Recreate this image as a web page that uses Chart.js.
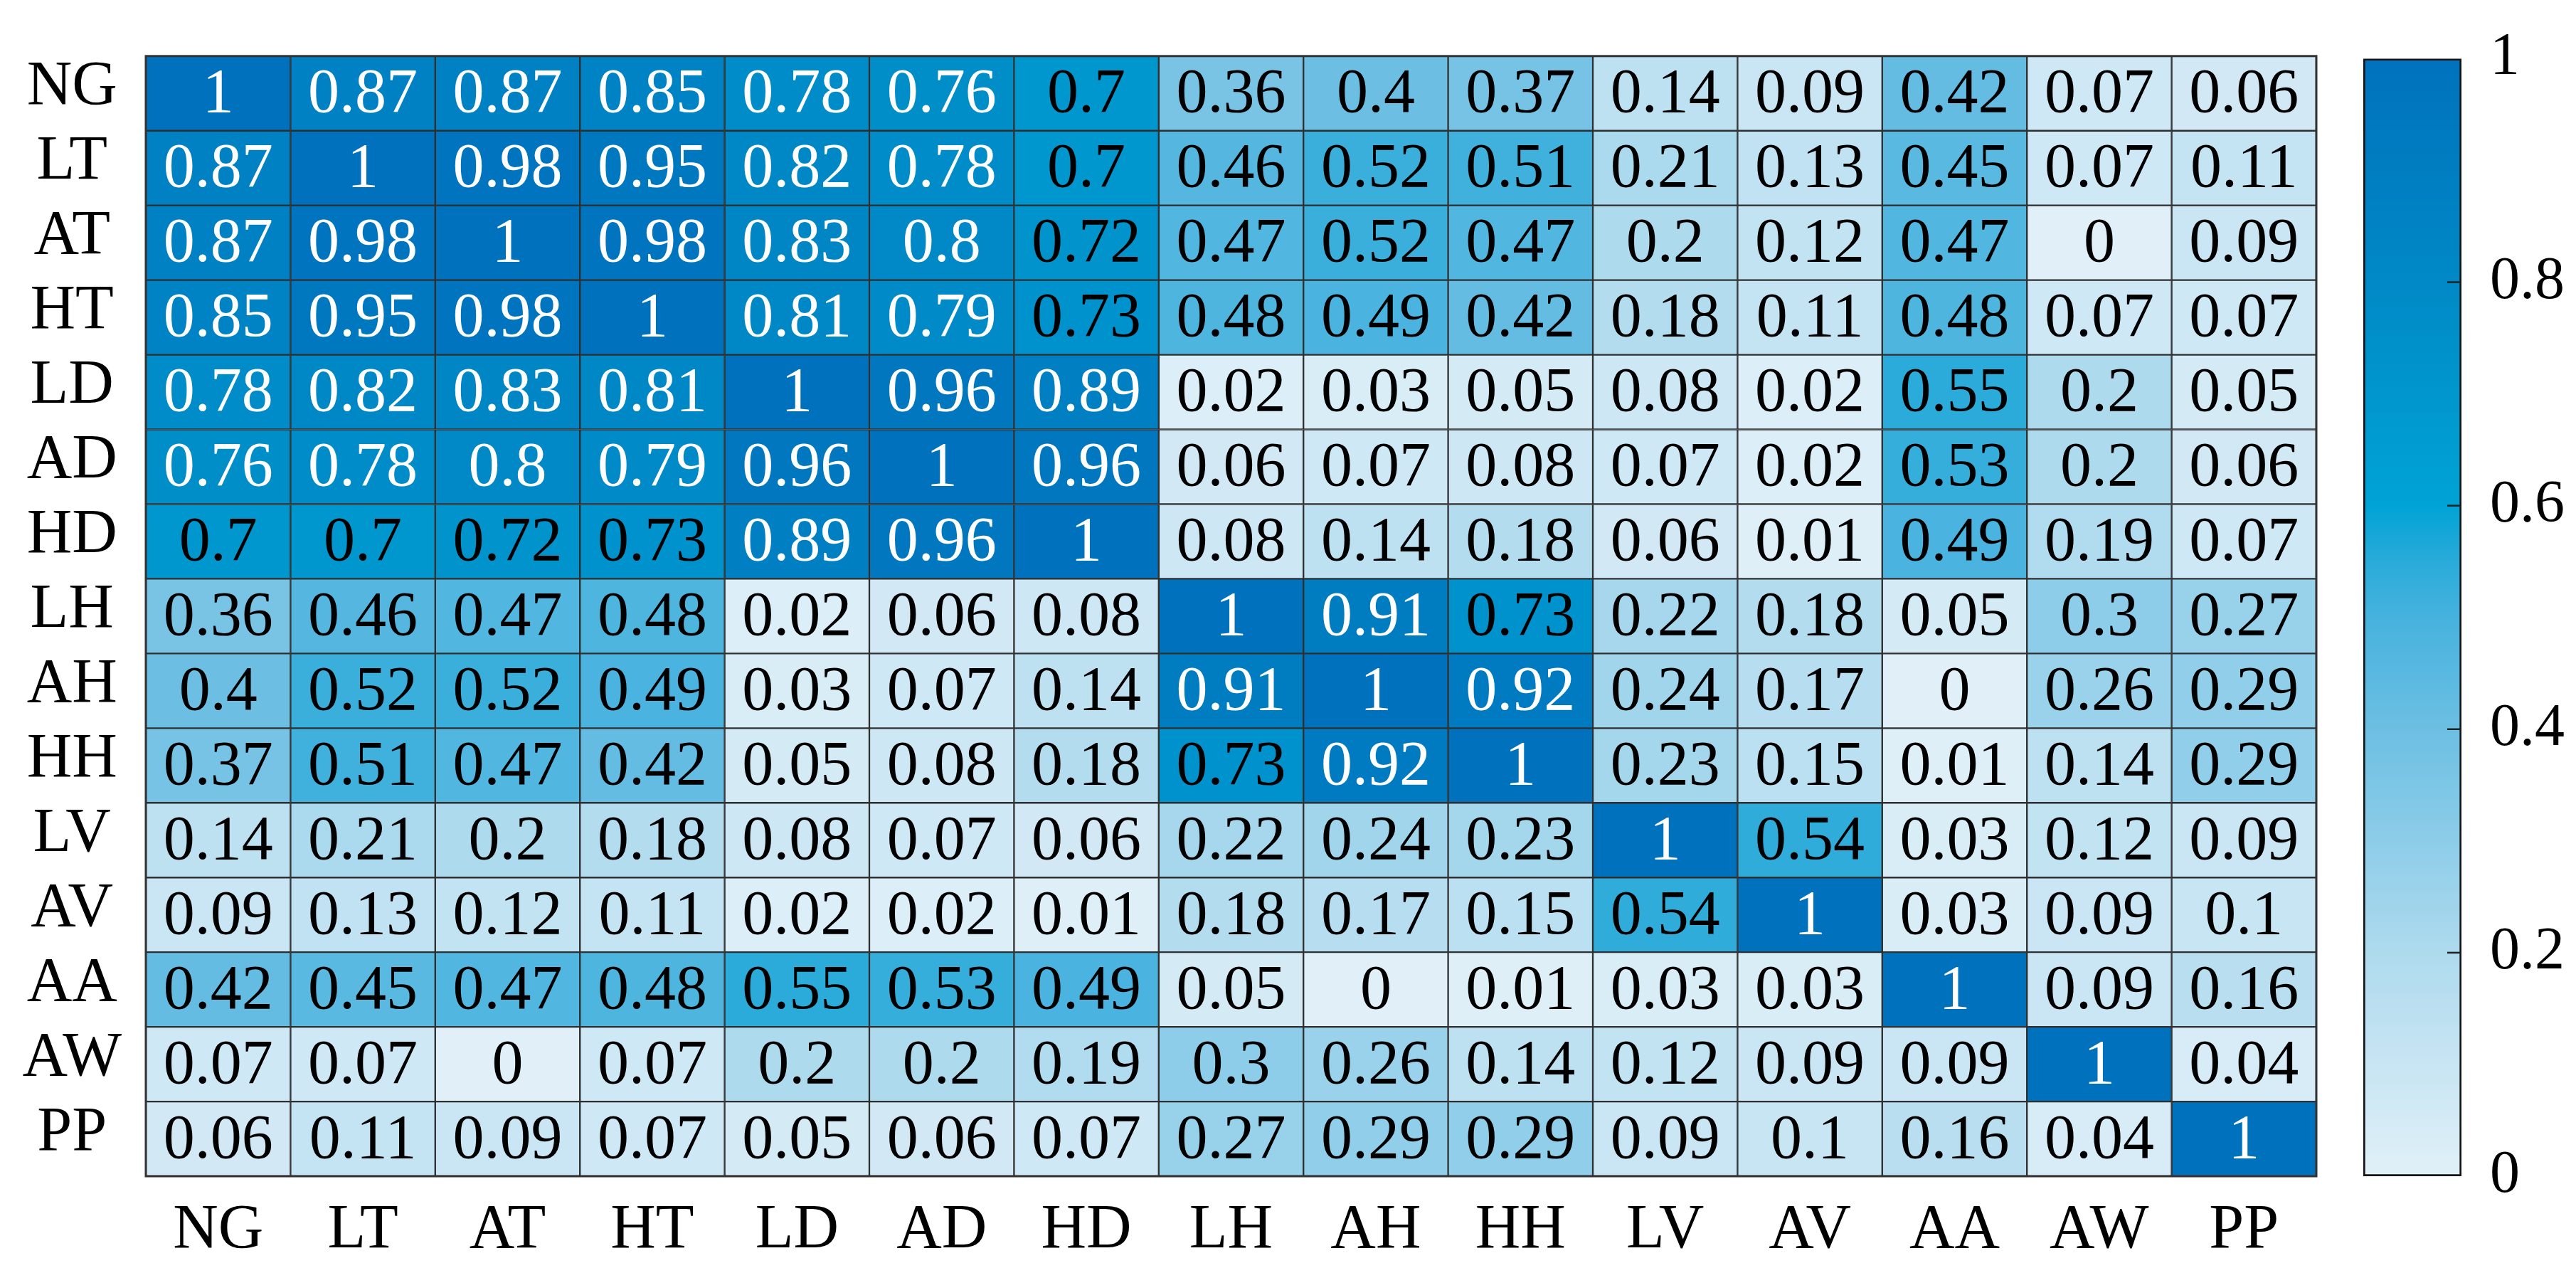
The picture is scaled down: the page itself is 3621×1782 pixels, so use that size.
<!DOCTYPE html>
<html>
<head>
<meta charset="utf-8">
<title>Correlation heatmap</title>
<script src="https://cdn.jsdelivr.net/npm/chart.js@4.4.1/dist/chart.umd.min.js"></script>
<style>
    body { margin: 0; background: #fff; }
    #wrap { position: relative; width: 3621px; height: 1782px; background: #fff; }
    #heatChart { position: absolute; left: 0; top: 0; }
    #barChart { position: absolute; left: 3300px; top: 0; }
</style>
</head>
<body>
<div id="wrap">
    <canvas id="heatChart" width="3300" height="1782"></canvas>
    <canvas id="barChart" width="321" height="1782"></canvas>
</div>
<script>
// variable names (rows top to bottom, columns left to right)
const rowLabels = ["NG", "LT", "AT", "HT", "LD", "AD", "HD", "LH", "AH", "HH", "LV", "AV", "AA", "AW", "PP"];
const colLabels = ["NG", "LT", "AT", "HT", "LD", "AD", "HD", "LH", "AH", "HH", "LV", "AV", "AA", "AW", "PP"];

// one array per row of the correlation matrix
const NG = [1, 0.87, 0.87, 0.85, 0.78, 0.76, 0.7, 0.36, 0.4, 0.37, 0.14, 0.09, 0.42, 0.07, 0.06];
const LT = [0.87, 1, 0.98, 0.95, 0.82, 0.78, 0.7, 0.46, 0.52, 0.51, 0.21, 0.13, 0.45, 0.07, 0.11];
const AT = [0.87, 0.98, 1, 0.98, 0.83, 0.8, 0.72, 0.47, 0.52, 0.47, 0.2, 0.12, 0.47, 0, 0.09];
const HT = [0.85, 0.95, 0.98, 1, 0.81, 0.79, 0.73, 0.48, 0.49, 0.42, 0.18, 0.11, 0.48, 0.07, 0.07];
const LD = [0.78, 0.82, 0.83, 0.81, 1, 0.96, 0.89, 0.02, 0.03, 0.05, 0.08, 0.02, 0.55, 0.2, 0.05];
const AD = [0.76, 0.78, 0.8, 0.79, 0.96, 1, 0.96, 0.06, 0.07, 0.08, 0.07, 0.02, 0.53, 0.2, 0.06];
const HD = [0.7, 0.7, 0.72, 0.73, 0.89, 0.96, 1, 0.08, 0.14, 0.18, 0.06, 0.01, 0.49, 0.19, 0.07];
const LH = [0.36, 0.46, 0.47, 0.48, 0.02, 0.06, 0.08, 1, 0.91, 0.73, 0.22, 0.18, 0.05, 0.3, 0.27];
const AH = [0.4, 0.52, 0.52, 0.49, 0.03, 0.07, 0.14, 0.91, 1, 0.92, 0.24, 0.17, 0, 0.26, 0.29];
const HH = [0.37, 0.51, 0.47, 0.42, 0.05, 0.08, 0.18, 0.73, 0.92, 1, 0.23, 0.15, 0.01, 0.14, 0.29];
const LV = [0.14, 0.21, 0.2, 0.18, 0.08, 0.07, 0.06, 0.22, 0.24, 0.23, 1, 0.54, 0.03, 0.12, 0.09];
const AV = [0.09, 0.13, 0.12, 0.11, 0.02, 0.02, 0.01, 0.18, 0.17, 0.15, 0.54, 1, 0.03, 0.09, 0.1];
const AA = [0.42, 0.45, 0.47, 0.48, 0.55, 0.53, 0.49, 0.05, 0, 0.01, 0.03, 0.03, 1, 0.09, 0.16];
const AW = [0.07, 0.07, 0, 0.07, 0.2, 0.2, 0.19, 0.3, 0.26, 0.14, 0.12, 0.09, 0.09, 1, 0.04];
const PP = [0.06, 0.11, 0.09, 0.07, 0.05, 0.06, 0.07, 0.27, 0.29, 0.29, 0.09, 0.1, 0.16, 0.04, 1];

const corr = [NG, LT, AT, HT, LD, AD, HD, LH, AH, HH, LV, AV, AA, AW, PP];

// colour bar range and ticks
const barMin = 0;
const barMax = 1;
const barStep = 0.2;

// colormap (light blue -> matlab blue)
const cmapStops = [0, 0.2, 0.4, 0.5, 0.55, 0.6, 0.8, 1];
const cmapColors = [
    [225, 240, 248], [174, 218, 238], [108, 191, 227], [70, 178, 222],
    [42, 171, 218], [0, 163, 214], [0, 137, 198], [0, 114, 189]
];

function cmap(v) {
    for (let k = 1; k < cmapStops.length; k++) {
        if (v <= cmapStops[k]) {
            const t = (v - cmapStops[k - 1]) / (cmapStops[k] - cmapStops[k - 1]);
            const a = cmapColors[k - 1], b = cmapColors[k];
            const c = a.map((x, n) => Math.round(x + (b[n] - x) * t));
            return `rgb(${c[0]},${c[1]},${c[2]})`;
        }
    }
    const l = cmapColors[cmapColors.length - 1];
    return `rgb(${l[0]},${l[1]},${l[2]})`;
}

const serif = "'Liberation Serif', 'Times New Roman', serif";
Chart.defaults.font.family = serif;
Chart.defaults.color = "#000";

// cell values written in the middle of each bar
const cellText = {
    id: "cellText",
    afterDatasetsDraw(chart) {
        const ctx = chart.ctx;
        ctx.save();
        ctx.font = `88px ${serif}`;
        ctx.textAlign = "center";
        ctx.textBaseline = "middle";
        chart.data.datasets.forEach((ds, j) => {
            chart.getDatasetMeta(j).data.forEach((bar, i) => {
                const v = corr[i][j];
                const p = bar.getCenterPoint();
                ctx.fillStyle = v > 0.75 ? "#fff" : "#000";
                ctx.fillText(String(v), p.x, p.y + 3);
            });
        });
        // outer frame
        const a = chart.chartArea;
        ctx.strokeStyle = "#333";
        ctx.lineWidth = 3;
        ctx.strokeRect(a.left, a.top, a.right - a.left, a.bottom - a.top);
        ctx.restore();
    }
};

const heatSets = colLabels.map((col, j) => ({
    label: col,
    data: rowLabels.map(() => [j, j + 1]),
    backgroundColor: rowLabels.map((r, i) => cmap(corr[i][j])),
    borderColor: "#2f2f2f",
    borderWidth: 1.5,
    borderSkipped: false,
    barPercentage: 1,
    categoryPercentage: 1,
    grouped: false
}));

new Chart(document.getElementById("heatChart"), {
    type: "bar",
    data: { labels: rowLabels, datasets: heatSets },
    options: {
        indexAxis: "y",
        responsive: false,
        animation: false,
        layout: { padding: { top: 68, right: 44, bottom: 0, left: 0 } },
        plugins: { legend: { display: false }, tooltip: { enabled: false } },
        scales: {
            x: { type: "linear", min: 0, max: colLabels.length, display: false },
            xCols: {
                type: "category",
                labels: colLabels,
                position: "bottom",
                offset: true,
                grid: { display: false },
                border: { display: false },
                ticks: { font: { size: 88 }, padding: 16, maxRotation: 0, autoSkip: false },
                afterFit: s => { s.height = 129; }
            },
            y: {
                type: "category",
                grid: { display: false },
                border: { display: false },
                ticks: { font: { size: 88 }, crossAlign: "center", padding: 26, labelOffset: -8, autoSkip: false },
                afterFit: s => { s.width = 205; }
            }
        }
    },
    plugins: [cellText]
});

// small inner ticks on the colour bar
const barTicks = {
    id: "barTicks",
    afterDatasetsDraw(chart) {
        const ctx = chart.ctx;
        const a = chart.chartArea;
        const sc = chart.scales.y;
        ctx.save();
        ctx.strokeStyle = "#222";
        ctx.lineWidth = 2.5;
        sc.ticks.forEach(t => {
            if (t.value <= barMin || t.value >= barMax) return;
            const y = sc.getPixelForValue(t.value);
            ctx.beginPath();
            ctx.moveTo(a.right - 20, y);
            ctx.lineTo(a.right - 2, y);
            ctx.stroke();
        });
        ctx.restore();
    }
};

new Chart(document.getElementById("barChart"), {
    type: "bar",
    data: {
        labels: [""],
        datasets: [{
            data: [[barMin, barMax]],
            backgroundColor: c => {
                const a = c.chart.chartArea;
                if (!a) return null;
                const g = c.chart.ctx.createLinearGradient(0, a.bottom, 0, a.top);
                cmapStops.forEach((s, k) => g.addColorStop(s, `rgb(${cmapColors[k].join(",")})`));
                return g;
            },
            borderColor: "#151515",
            borderWidth: 3,
            borderSkipped: false,
            barPercentage: 1,
            categoryPercentage: 1
        }]
    },
    options: {
        responsive: false,
        animation: false,
        layout: { padding: { top: 68, right: 0, bottom: 129, left: 22 } },
        plugins: { legend: { display: false }, tooltip: { enabled: false } },
        scales: {
            x: { display: false },
            y: {
                position: "right",
                min: barMin,
                max: barMax,
                grid: { display: false },
                border: { display: false },
                ticks: {
                    stepSize: barStep,
                    font: { size: 84 },
                    padding: 32,
                    callback: v => String(Math.round(v * 10) / 10)
                },
                afterFit: s => { s.width = 161; }
            }
        }
    },
    plugins: [barTicks]
});
</script>
</body>
</html>
